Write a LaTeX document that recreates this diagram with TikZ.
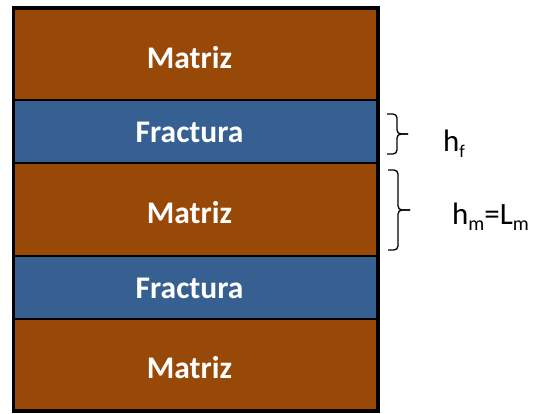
\documentclass[tikz,border=0pt]{standalone}
\usepackage{fontspec}
\setmainfont{Carlito}
\definecolor{matriz}{HTML}{984807}
\definecolor{fractura}{HTML}{376092}
% lowered subscript: #1 = drop, #2 = font size, #3 = text
\newcommand\lowsub[3]{\raisebox{-#1}{\fontsize{#2}{#2}\selectfont #3}}
\begin{document}
\begin{tikzpicture}[x=1pt,y=-1pt,
  layer/.style={draw=black,line width=1.5pt,minimum width=363pt,inner sep=0pt},
  matrixlayer/.style={layer,fill=matriz},
  fracturelayer/.style={layer,fill=fractura},
  layertext/.style={text=white,inner sep=0pt,font=\fontsize{31.5}{36}\selectfont\bfseries},
  bracepath/.style={draw=black,line width=1.3pt,rounded corners=4pt},
  sidelabel/.style={inner sep=0pt,anchor=base west}]
\useasboundingbox (0,0) rectangle (535,414);
% stacked layers, top to bottom
\node[matrixlayer,minimum height=91pt]   (m1) at (195.5,54.5)  {};
\node[fracturelayer,minimum height=63pt] (f1) at (195.5,131.5) {};
\node[matrixlayer,minimum height=93pt]   (m2) at (195.5,209.5) {};
\node[fracturelayer,minimum height=63pt] (f2) at (195.5,287.5) {};
\node[matrixlayer,minimum height=91pt]   (m3) at (195.5,364.5) {};
% layer names
\node[layertext] (t1) at ([shift={(-6,3)}]m1.center) {Matriz};
\node[layertext] (t2) at ([shift={(-6,1)}]f1.center) {Fractura};
\node[layertext] (t3) at ([shift={(-6,3)}]m2.center) {Matriz};
\node[layertext] (t4) at ([shift={(-6,1)}]f2.center) {Fractura};
\node[layertext] (t5) at ([shift={(-6,3)}]m3.center) {Matriz};
% heavy outer frame
\draw[line width=3.5pt] (m1.north west) rectangle (m3.south east);
% thickness braces
\coordinate (bf) at (408,134);
\coordinate (bm) at (410,210);
\draw[bracepath] (387,114) -- (397,114) -- (397,134) -- (bf);
\draw[bracepath] (bf) -- (397,134) -- (397,154) -- (387,154);
\draw[bracepath] (388,170) -- (398,170) -- (398,210) -- (bm);
\draw[bracepath] (bm) -- (398,210) -- (398,250) -- (388,250);
\node[sidelabel,font=\fontsize{31}{34}\selectfont] (hf) at (443,152)
  {h\lowsub{6pt}{18pt}{f}};
\node[sidelabel,font=\fontsize{31}{34}\selectfont] (hm) at (452,224)
  {h\lowsub{6pt}{20pt}{m}=L\lowsub{6pt}{20pt}{m}};
\end{tikzpicture}
\end{document}
